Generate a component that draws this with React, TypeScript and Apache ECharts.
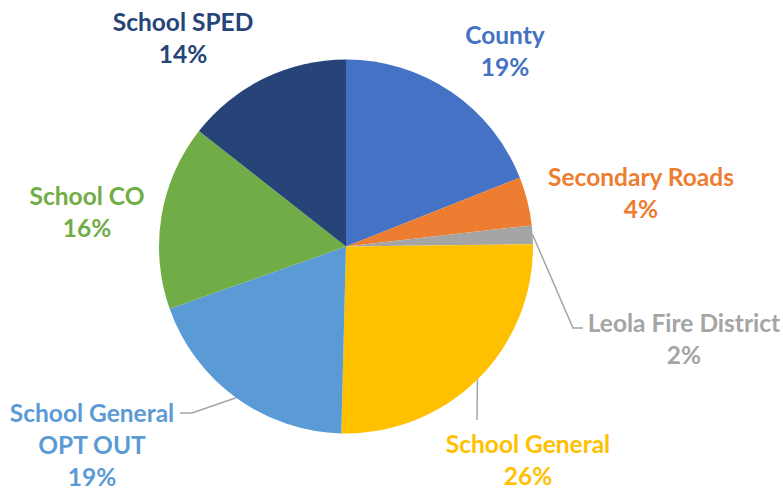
import React, { useEffect, useRef } from "react";
import * as echarts from "echarts";

const categories = [
  "County",
  "Secondary Roads",
  "Leola Fire District",
  "School General",
  "School General OPT OUT",
  "School CO",
  "School SPED",
];
const values = [19.0, 4.2, 1.6, 25.6, 19.2, 16.0, 14.4];
const colors = ["#4472C4", "#ED7D31", "#A5A5A5", "#FFC000", "#5B9BD5", "#70AD47", "#264478"];

// label block centres (px)
const labelPos: [number, number][] = [
  [505, 50],
  [641, 192],
  [684, 338],
  [528, 459],
  [92, 444],
  [87, 211],
  [183, 37],
];
// leader line elbow/end points (null = no leader line)
const leaderTail: ([number, number][] | null)[] = [
  null,
  null,
  [[573, 328], [583, 328]],
  [[477, 420]],
  [[192, 413], [180, 413]],
  null,
  null,
];

const CENTER: [number, number] = [346, 246.5];
const RADIUS = 187;

export default function App() {
  const ref = useRef<HTMLDivElement>(null);
  useEffect(() => {
    document.body.style.margin = "0";
    if (!ref.current) return;
    const chart = echarts.init(ref.current, undefined, { renderer: "svg" });
    const total = values.reduce((a, b) => a + b, 0);
    const cum: number[] = [];
    let acc = 0;
    values.forEach((v) => {
      cum.push(acc + v / 2);
      acc += v;
    });
    const edgePoint = (i: number): [number, number] => {
      const ang = (cum[i] / total) * Math.PI * 2;
      return [CENTER[0] + RADIUS * Math.sin(ang), CENTER[1] - RADIUS * Math.cos(ang)];
    };
    chart.setOption({
      animation: false,
      backgroundColor: "#ffffff",
      series: [
        {
          type: "pie",
          center: CENTER,
          radius: RADIUS,
          startAngle: 90,
          clockwise: true,
          avoidLabelOverlap: false,
          percentPrecision: 0,
          itemStyle: { borderWidth: 0 },
          emphasis: { disabled: true },
          label: {
            show: true,
            position: "outside",
            fontFamily: "Lato",
            fontWeight: "bold",
            fontSize: 24.5,
            lineHeight: 32,
            align: "center",
            formatter: (p: any) => `${p.name.replace(" OPT", "\nOPT")}\n${p.percent}%`,
          },
          labelLine: {
            show: true,
            lineStyle: { color: "#A5A5A5", width: 1.5 },
          },
          labelLayout: (params: any) => {
            const i = params.dataIndex;
            const [x, y] = labelPos[i];
            const out: any = { x, y, align: "center", verticalAlign: "middle" };
            const tail = leaderTail[i];
            if (tail) out.labelLinePoints = [edgePoint(i), ...tail];
            return out;
          },
          data: categories.map((name, i) => ({
            name,
            value: values[i],
            itemStyle: { color: colors[i] },
            label: { color: colors[i] },
            labelLine: { show: leaderTail[i] != null },
          })),
        },
      ],
    });
    return () => chart.dispose();
  }, []);
  return <div ref={ref} style={{ width: 783, height: 489 }} />;
}
